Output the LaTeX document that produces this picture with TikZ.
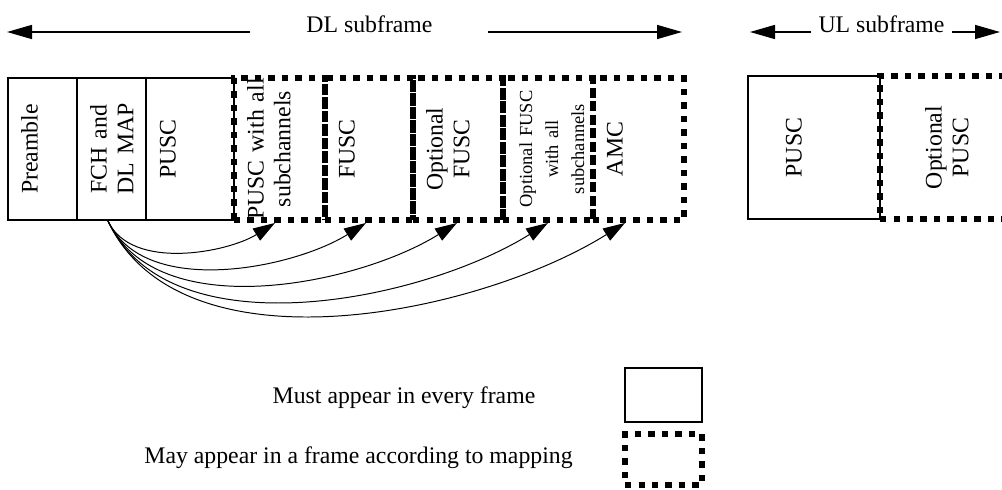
\documentclass[tikz,border=0pt]{standalone}
\usepackage{fontspec}
\setmainfont{Liberation Serif}
\usepackage{graphicx}
\usetikzlibrary{arrows.meta}
\newcommand{\vtext}[1]{\rotatebox{90}{\begin{tabular}{@{}c@{}}#1\end{tabular}}}

\begin{document}
\begin{tikzpicture}[scale=1.0000]
	\tikzstyle{every node}=[scale=1.0000, font=\fontsize{16.9}{19}\selectfont]
	\tikzstyle{solidbox}=[draw, line width=1.4pt, inner ysep=0pt, inner xsep=0.2750cm, minimum height=3.5500cm, align=left]
	\tikzstyle{dotbox}=[solidbox, line width=4.2pt, dash pattern=on 4.6pt off 5.0pt]
	\tikzstyle{hdrarrow}=[line width=1.1pt, -{Triangle[length=0.6250cm, width=0.3500cm]}]
	\tikzstyle{maparrow}=[line width=0.7pt, -{Triangle[length=0.5500cm, width=0.3500cm]}]

	\useasboundingbox (0.0000,0.0000) rectangle (25.0500,12.2250);
	\clip (0.0000,0.0000) rectangle (25.0500,12.2250);

	% subframe headers
	\node [anchor=base] (dl) at (9.2375,11.4250) {DL subframe};
	\node [anchor=base] (ul) at (22.0375,11.4250) {UL subframe};
	\coordinate (dlL) at (0.1750,11.4250);
	\coordinate (dlR) at (17.0500,11.4250);
	\coordinate (ulL) at (18.7500,11.4250);
	\coordinate (ulR) at (25.0000,11.4250);
	\draw [hdrarrow] ([xshift=-1.3000cm]dl.base west) -- (dlL);
	\draw [hdrarrow] ([xshift=1.2750cm]dl.base east) -- (dlR);
	\draw [hdrarrow] ([xshift=-0.0750cm]ul.base west) -- (ulL);
	\draw [hdrarrow] ([xshift=0.0750cm]ul.base east) -- (ulR);

	% DL zones
	\node [solidbox, text width=1.1750cm] (pre) at (1.0625,8.5000) {\vtext{Preamble}};
	\node [solidbox, text width=1.1750cm] (fch) at (2.7875,8.5000) {\vtext{FCH and\\DL MAP}};
	\node [solidbox, text width=1.6500cm] (pusc) at (4.7500,8.5000) {\vtext{PUSC}};
	\node [dotbox, text width=1.7250cm] (pwa) at (6.9875,8.5000) {\vtext{PUSC with all\\subchannels}};
	\node [dotbox, text width=1.6500cm] (fusc) at (9.2250,8.5000) {\vtext{FUSC}};
	\node [dotbox, text width=1.7000cm] (ofusc) at (11.4500,8.5000) {\vtext{Optional\\FUSC}};
	\node [dotbox, text width=1.7000cm, font=\fontsize{13.1}{18.5}\selectfont] (ofwa) at (13.7000,8.5000) {\vtext{Optional FUSC\\with all\\subchannels}};
	\node [dotbox, text width=1.7250cm] (amc) at (15.9625,8.5000) {\vtext{AMC}};

	% UL zones
	\node [solidbox, minimum height=3.5750cm, inner xsep=0.8750cm, text width=1.5500cm] (ulpusc) at (20.3500,8.5375) {\vtext{PUSC}};
	\node [dotbox, minimum height=3.5750cm, inner xsep=1.0750cm, text width=1.8500cm] (ulopt) at (24.0000,8.5375) {\vtext{Optional\\PUSC}};

	% DL MAP pointers
	\draw [maparrow] ([xshift=-0.0875cm]fch.south) to[out=-65, in=212, looseness=0.85] ([xshift=-0.1125cm]pwa.south);
	\draw [maparrow] ([xshift=-0.0875cm]fch.south) to[out=-65, in=212, looseness=0.85] ([xshift=-0.0750cm]fusc.south);
	\draw [maparrow] ([xshift=-0.0875cm]fch.south) to[out=-65, in=212, looseness=0.85] ([xshift=-0.0250cm]ofusc.south);
	\draw [maparrow] ([xshift=-0.0875cm]fch.south) to[out=-65, in=212, looseness=0.85] (ofwa.south);
	\draw [maparrow] ([xshift=-0.0875cm]fch.south) to[out=-65, in=212, looseness=0.85] ([xshift=-0.3375cm]amc.south);

	% legend
	\node (must) at (10.1000,2.2750) {Must appear in every frame};
	\node (may) at (8.9625,0.7750) {May appear in a frame according to mapping};
	\node [solidbox, minimum width=1.9250cm, minimum height=1.3500cm] (mustkey) at (16.5875,2.3500) {};
	\node [dotbox, minimum width=1.9250cm, minimum height=1.2750cm] (maykey) at (16.5875,0.7375) {};

\end{tikzpicture}
\end{document}
